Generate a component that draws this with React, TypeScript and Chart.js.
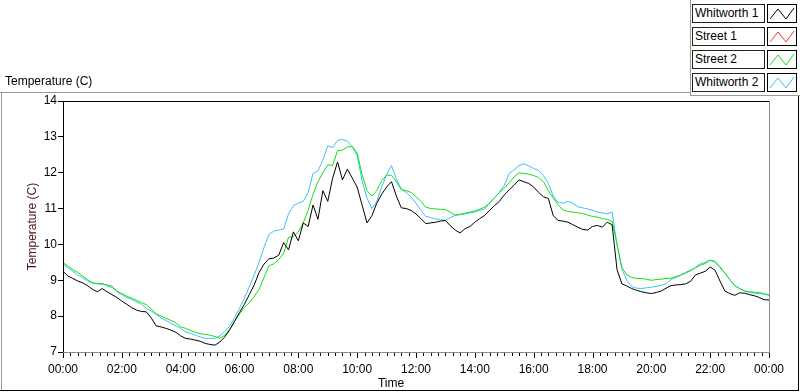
import React, { useEffect, useRef } from "react";
import { Chart, registerables } from "chart.js";

Chart.register(...registerables);

// ---- data (10-minute samples, 00:00 .. 24:00) ----
const minutes: number[] = Array.from({ length: 145 }, (_, i) => i * 10);

const whitworth1: number[] = [
  9.25, 9.12, 9.05, 8.98, 8.93, 8.85, 8.75, 8.68, 8.77, 8.68,
  8.6, 8.52, 8.42, 8.33, 8.24, 8.17, 8.13, 8.12, 7.95, 7.73,
  7.7, 7.66, 7.61, 7.55, 7.45, 7.38, 7.36, 7.33, 7.3, 7.24,
  7.21, 7.19, 7.28, 7.42, 7.62, 7.86, 8.1, 8.33, 8.6, 8.87,
  9.22, 9.45, 9.6, 9.62, 9.7, 10.05, 9.85, 10.35, 10.1, 10.6,
  10.5, 11.1, 10.7, 11.5, 11.2, 11.85, 12.3, 11.8, 12.1, 11.85,
  11.6, 11.1, 10.6, 10.8, 11.15, 11.4, 11.6, 11.75, 11.35, 11.02,
  11.0, 10.95, 10.85, 10.72, 10.58, 10.6, 10.62, 10.65, 10.67, 10.52,
  10.4, 10.32, 10.44, 10.5, 10.62, 10.72, 10.81, 10.95, 11.08, 11.2,
  11.38, 11.52, 11.65, 11.8, 11.75, 11.7, 11.6, 11.45, 11.33, 11.28,
  10.8, 10.67, 10.65, 10.62, 10.55, 10.48, 10.42, 10.4, 10.5, 10.53,
  10.48, 10.62, 10.55, 9.3, 8.9, 8.84, 8.77, 8.72, 8.68, 8.65,
  8.63, 8.66, 8.7, 8.78, 8.85, 8.87, 8.88, 8.9, 8.97, 9.15,
  9.2, 9.25, 9.37, 9.28, 8.98, 8.7, 8.63, 8.58, 8.65, 8.64,
  8.6, 8.57, 8.52, 8.46, 8.45,
];

const street1: number[] = [];

const street2: number[] = [
  9.49, 9.4, 9.3, 9.22, 9.12, 9.02, 8.93, 8.91, 8.91, 8.85,
  8.8, 8.7, 8.63, 8.56, 8.5, 8.44, 8.38, 8.32, 8.2, 8.07,
  8.0, 7.94, 7.88, 7.82, 7.7, 7.66, 7.6, 7.55, 7.51, 7.49,
  7.47, 7.43, 7.38, 7.47, 7.63, 7.85, 8.06, 8.24, 8.38, 8.55,
  8.75, 9.08, 9.4, 9.46, 9.58, 9.75, 10.2, 10.22, 10.35, 10.6,
  10.95, 11.4, 11.75, 12.0, 12.22, 12.2, 12.62, 12.63, 12.72, 12.73,
  12.55, 11.95, 11.5, 11.35, 11.5, 11.78, 11.93, 11.93, 11.75, 11.53,
  11.5, 11.45, 11.33, 11.2, 11.04, 11.0, 10.99, 10.98, 10.97, 10.9,
  10.82, 10.84, 10.87, 10.9, 10.94, 10.98, 11.04, 11.15, 11.3, 11.44,
  11.57, 11.72, 11.88, 12.0, 11.98, 11.96, 11.92, 11.87, 11.75, 11.5,
  11.3, 11.1, 10.96, 10.92, 10.9, 10.88, 10.86, 10.82, 10.78, 10.76,
  10.72, 10.7, 10.64, 10.0, 9.35, 9.15, 9.08, 9.05, 9.05, 9.03,
  9.0, 9.02, 9.03, 9.05, 9.06, 9.1, 9.15, 9.22, 9.28, 9.35,
  9.42, 9.47, 9.56, 9.53, 9.38, 9.2, 9.02, 8.85, 8.77, 8.7,
  8.68, 8.67, 8.66, 8.62, 8.58,
];

const whitworth2: number[] = [
  9.46, 9.35, 9.25, 9.15, 9.07, 8.98, 8.92, 8.9, 8.89, 8.87,
  8.84, 8.68, 8.6, 8.52, 8.47, 8.4, 8.33, 8.22, 8.14, 8.05,
  7.95, 7.88, 7.8, 7.73, 7.66, 7.56, 7.52, 7.47, 7.42, 7.38,
  7.38, 7.38, 7.45, 7.57, 7.72, 7.96, 8.22, 8.5, 8.82, 9.15,
  9.5, 9.92, 10.28, 10.37, 10.4, 10.43, 10.85, 11.08, 11.15, 11.2,
  11.45, 11.98, 12.05, 12.35, 12.75, 12.7, 12.9, 12.93, 12.88, 12.72,
  12.48, 11.78, 11.3, 11.0, 11.2, 11.6, 11.95, 12.2, 11.82, 11.55,
  11.45, 11.32, 11.15, 10.95, 10.78, 10.75, 10.71, 10.69, 10.67, 10.75,
  10.81, 10.83, 10.85, 10.88, 10.9, 10.95, 10.99, 11.15, 11.3, 11.45,
  11.65, 11.98, 12.08, 12.2, 12.25, 12.19, 12.12, 12.06, 11.92, 11.7,
  11.35, 11.17, 11.15, 11.2, 11.15, 11.05, 11.02, 10.99, 10.95, 10.9,
  10.88, 10.85, 10.9, 10.0, 9.3, 9.0, 8.82, 8.78, 8.77, 8.79,
  8.81, 8.83, 8.86, 8.9, 9.02, 9.08, 9.14, 9.2, 9.26, 9.36,
  9.46, 9.5, 9.56, 9.5, 9.35, 9.2, 9.02, 8.85, 8.77, 8.7,
  8.66, 8.64, 8.63, 8.62, 8.6,
];

const seriesNames = ["Whitworth 1", "Street 1", "Street 2", "Whitworth 2"];
const seriesColors = ["#000000", "#ff3030", "#10e010", "#40bff5"];
const yTicks = [7, 8, 9, 10, 11, 12, 13, 14];
const xTickLabels = ["00:00", "02:00", "04:00", "06:00", "08:00", "10:00", "12:00", "14:00", "16:00", "18:00", "20:00", "22:00", "00:00"];

const FONT = "'Liberation Sans', Arial, sans-serif";

const framePlugin = {
  id: "frame",
  afterDraw(chart: any) {
    const { ctx, chartArea, scales } = chart;
    const { left, right, top, bottom } = chartArea;
    const x = scales.x;
    ctx.save();
    ctx.fillStyle = "#000";
    ctx.fillRect(Math.round(left), Math.round(top), Math.round(right - left) + 1, 1);
    ctx.fillRect(Math.round(left), Math.round(top), 1, Math.round(bottom - top) + 1);
    ctx.fillStyle = "#8c8c8c";
    ctx.fillRect(Math.round(right), Math.round(top), 1, Math.round(bottom - top) + 1);
    ctx.fillRect(Math.round(left), Math.round(bottom), Math.round(right - left) + 1, 1);
    ctx.fillStyle = "#000";
    for (let m = 0; m <= 1440; m += 15) {
      const px = Math.round(x.getPixelForValue(m));
      const len = m % 120 === 0 ? 5 : 3;
      ctx.fillRect(px, Math.round(bottom) + 1, 1, len);
    }
    ctx.font = `12px ${FONT}`;
    ctx.fillStyle = "#000";
    ctx.textAlign = "center";
    ctx.textBaseline = "middle";
    ctx.fillText("Time", 391, 384);
    ctx.translate(33, (top + bottom) / 2);
    ctx.rotate(-Math.PI / 2);
    ctx.fillStyle = "#4a1414";
    ctx.fillText("Temperature (C)", 0, 0);
    ctx.restore();
  },
};

function fmt(m: number): string {
  const h = Math.floor((m % 1440) / 60);
  return (h < 10 ? "0" : "") + h + ":00";
}

function Sample({ color }: { color: string }) {
  return (
    <svg width="28" height="17" style={{ display: "block" }}>
      <polyline points="2,14 10,4 18,14 26,3" fill="none" stroke={color} strokeWidth="1" />
    </svg>
  );
}

export default function App() {
  const ref = useRef<HTMLCanvasElement | null>(null);
  useEffect(() => {
    document.body.style.margin = "0";
    const series = [whitworth1, street1, street2, whitworth2];
    const chart = new Chart(ref.current as HTMLCanvasElement, {
      type: "line",
      data: {
        datasets: series.map((s, k) => ({
          label: seriesNames[k],
          data: s.map((v, i) => ({ x: minutes[i], y: v })),
          borderColor: seriesColors[k],
          backgroundColor: seriesColors[k],
          borderWidth: 1,
          pointRadius: 0,
          tension: 0,
          fill: false,
        })),
      },
      options: {
        animation: false,
        responsive: false,
        maintainAspectRatio: false,
        layout: { padding: { top: 101, right: 31, bottom: 0, left: 0 } },
        plugins: { legend: { display: false }, tooltip: { enabled: false }, title: { display: false } },
        scales: {
          x: {
            type: "linear",
            min: 0,
            max: 1440,
            afterFit: (s: any) => { s.height = 40; },
            afterBuildTicks: (s: any) => { s.ticks = xTickLabels.map((_, i) => ({ value: i * 120 })); },
            ticks: {
              stepSize: 120,
              autoSkip: false,
              maxRotation: 0,
              padding: 2,
              color: "#000",
              font: { family: FONT, size: 12 },
              callback: (v: any) => fmt(Number(v)),
            },
            grid: { display: false },
            border: { display: false },
          },
          y: {
            min: 7,
            max: 14,
            afterFit: (s: any) => { s.width = 63; },
            afterBuildTicks: (s: any) => { s.ticks = yTicks.map((v) => ({ value: v })); },
            ticks: {
              stepSize: 1,
              padding: 1,
              color: "#000",
              font: { family: FONT, size: 12 },
            },
            grid: { drawOnChartArea: false, drawTicks: true, tickLength: 5, color: "#000" },
            border: { display: false },
          },
        },
      },
      plugins: [framePlugin],
    });
    return () => chart.destroy();
  }, []);

  const rowTops = [4, 27, 50, 73];
  const line = (style: React.CSSProperties) => <div style={{ position: "absolute", ...style }} />;

  return (
    <div style={{ position: "relative", width: 800, height: 392, background: "#fff", overflow: "hidden", fontFamily: FONT }}>
      <canvas ref={ref} width={800} height={392} style={{ position: "absolute", left: 0, top: 0 }} />
      {line({ left: 0, top: 92, width: 690, height: 1, background: "#9a9a9a" })}
      {line({ left: 1, top: 92, width: 1, height: 298, background: "#9a9a9a" })}
      {line({ left: 0, top: 390, width: 799, height: 1, background: "#000" })}
      {line({ left: 798, top: 95, width: 1, height: 296, background: "#000" })}
      {line({ left: 690, top: 0, width: 1, height: 96, background: "#9a9a9a" })}
      {line({ left: 690, top: 95, width: 110, height: 1, background: "#9a9a9a" })}
      <div style={{ position: "absolute", left: 5, top: 74, fontSize: 12, color: "#000", whiteSpace: "nowrap" }}>Temperature (C)</div>
      {seriesNames.map((n, k) => (
        <React.Fragment key={n}>
          <div style={{ position: "absolute", left: 692, top: rowTops[k], width: 69, height: 17, border: "1px solid #222", background: "#fff", fontSize: 12, lineHeight: "17px", paddingLeft: 2, boxSizing: "content-box", whiteSpace: "nowrap", color: "#000" }}>{n}</div>
          <div style={{ position: "absolute", left: 767, top: rowTops[k], width: 28, height: 17, border: "1px solid #000", background: "#fff" }}>
            <Sample color={seriesColors[k]} />
          </div>
        </React.Fragment>
      ))}
    </div>
  );
}
